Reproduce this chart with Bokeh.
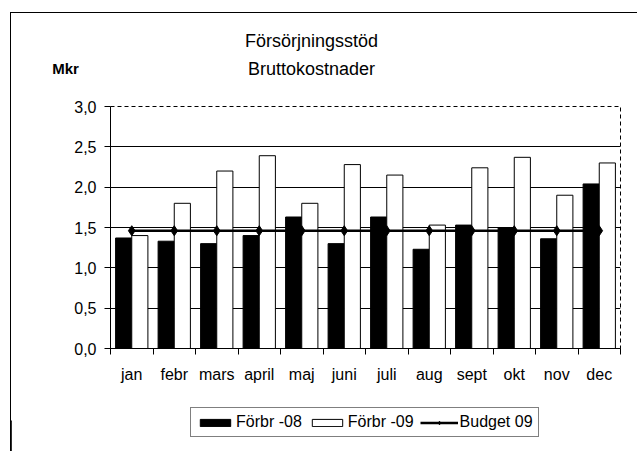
import numpy as np
from bokeh.plotting import figure
from bokeh.layouts import column
from bokeh.models import (ColumnDataSource, Range1d, FixedTicker, Legend,
                          LegendItem, Label)
from bokeh.transform import dodge
from bokeh.embed import file_html
from bokeh.resources import INLINE

# ---- data ----
months = ["jan", "febr", "mars", "april", "maj", "juni",
          "juli", "aug", "sept", "okt", "nov", "dec"]
forbr_08 = [1.37, 1.33, 1.30, 1.40, 1.63, 1.30, 1.63, 1.23, 1.53, 1.50, 1.36, 2.04]
forbr_09 = [1.40, 1.80, 2.20, 2.39, 1.80, 2.28, 2.15, 1.53, 2.24, 2.37, 1.90, 2.30]
budget_09 = [1.46, 1.46, 1.46, 1.46, 1.46, 1.46, 1.46, 1.46, 1.46, 1.46, 1.46, 1.46]
y_ticks = [0.0, 0.5, 1.0, 1.5, 2.0, 2.5, 3.0]
y_tick_labels = ["0,0", "0,5", "1,0", "1,5", "2,0", "2,5", "3,0"]
series_names = ["Förbr -08", "Förbr -09", "Budget 09"]
title_lines = ["Försörjningsstöd", "Bruttokostnader"]
unit_label = "Mkr"

FONT = "'Liberation Sans', Arial, sans-serif"
W = 626


def blank(height):
    f = figure(width=W, height=height, x_range=Range1d(0, 1), y_range=Range1d(0, 1),
               output_backend="svg", toolbar_location=None, min_border=0)
    f.axis.visible = False
    f.grid.visible = False
    f.outline_line_color = None
    f.background_fill_color = "white"
    f.border_fill_color = "white"
    f.frame_align = False
    return f


# ---- header (titles) ----
head = blank(85)
for txt, x, y, size, style in [(title_lines[0], 300, 58, "18px", "normal"),
                               (title_lines[1], 300, 30, "18px", "normal"),
                               (unit_label, 54, 30, "15px", "bold")]:
    head.add_layout(Label(x=x, y=y, x_units="screen", y_units="screen", text=txt,
                          text_align="center", text_baseline="middle",
                          text_font=FONT, text_font_size=size,
                          text_font_style=style, text_color="black"))

# ---- main chart ----
pos = [i + 0.5 for i in range(len(months))]
src = ColumnDataSource(dict(x=pos, f08=forbr_08, f09=forbr_09, bud=budget_09))

p = figure(width=W, height=292, x_range=Range1d(0, len(months)),
           y_range=Range1d(y_ticks[0], y_ticks[-1]),
           output_backend="svg", toolbar_location=None,
           min_border_left=99, min_border_right=17,
           min_border_top=8, min_border_bottom=42)
p.background_fill_color = "white"
p.border_fill_color = "white"
p.outline_line_color = "black"
p.outline_line_dash = "4 3"
p.outline_line_width = 1

bar08 = dict(fill_color="black", line_color="black", line_width=1)
bar09 = dict(fill_color="white", line_color="black", line_width=1)
p.vbar(x=dodge("x", -0.19, range=p.x_range), top="f08", width=0.38, source=src, **bar08)
p.vbar(x=dodge("x", 0.19, range=p.x_range), top="f09", width=0.38, source=src, **bar09)
p.line("x", "bud", line_color="black", line_width=2.5, source=src)
p.scatter("x", "bud", marker="diamond", size=10, color="black", source=src)

p.xgrid.visible = False
p.ygrid.ticker = FixedTicker(ticks=y_ticks[1:-1])
p.ygrid.grid_line_color = "black"
p.ygrid.grid_line_width = 1

ya = p.yaxis[0]
ya.ticker = FixedTicker(ticks=y_ticks)
ya.major_label_overrides = dict(zip(y_ticks, y_tick_labels))
ya.major_tick_out = 6
ya.major_tick_in = 0
ya.minor_tick_line_color = None
ya.axis_line_color = "black"
ya.major_tick_line_color = "black"
ya.major_label_text_font = FONT
ya.major_label_text_font_size = "16px"
ya.major_label_text_color = "black"
ya.major_label_standoff = 8

xa = p.xaxis[0]
xa.ticker = FixedTicker(ticks=pos, minor_ticks=list(range(len(months) + 1)))
xa.major_label_overrides = dict(zip(pos, months))
xa.major_tick_out = 0
xa.major_tick_in = 0
xa.major_tick_line_color = None
xa.minor_tick_out = 6
xa.minor_tick_in = 0
xa.minor_tick_line_color = "black"
xa.axis_line_color = "black"
xa.major_label_text_font = FONT
xa.major_label_text_font_size = "16px"
xa.major_label_text_color = "black"
xa.major_label_standoff = 11

# ---- footer (legend); its sample glyphs sit outside the visible range ----
foot = blank(61)
sample = ColumnDataSource(dict(x=[-5.0, -4.0], top=[0.5, 0.5]))
l08 = foot.vbar(x="x", top="top", width=0.38, source=sample, **bar08)
l09 = foot.vbar(x="x", top="top", width=0.38, source=sample, **bar09)
ll = foot.line(x="x", y="top", line_color="black", line_width=2.5, source=sample)
ls = foot.scatter(x="x", y="top", marker="diamond", size=10, color="black", source=sample)

legend = Legend(items=[LegendItem(label=series_names[0], renderers=[l08]),
                       LegendItem(label=series_names[1], renderers=[l09]),
                       LegendItem(label=series_names[2], renderers=[ll, ls])],
                orientation="horizontal", location=(179, 14))
legend.border_line_color = "black"
legend.border_line_width = 1
legend.background_fill_color = "white"
legend.background_fill_alpha = 1
legend.label_text_font = FONT
legend.label_text_font_size = "16px"
legend.label_text_color = "black"
legend.glyph_width = 38
legend.glyph_height = 9
legend.label_standoff = 2
legend.spacing = 6
legend.padding = 5
legend.margin = 0
legend.label_height = 16
foot.add_layout(legend)

layout = column(head, p, foot, spacing=0,
                styles={"margin-left": "10px", "margin-top": "12px",
                        "border-top": "1px solid black",
                        "border-left": "1px solid black"})

open("out.html", "w").write(file_html(layout, INLINE))
